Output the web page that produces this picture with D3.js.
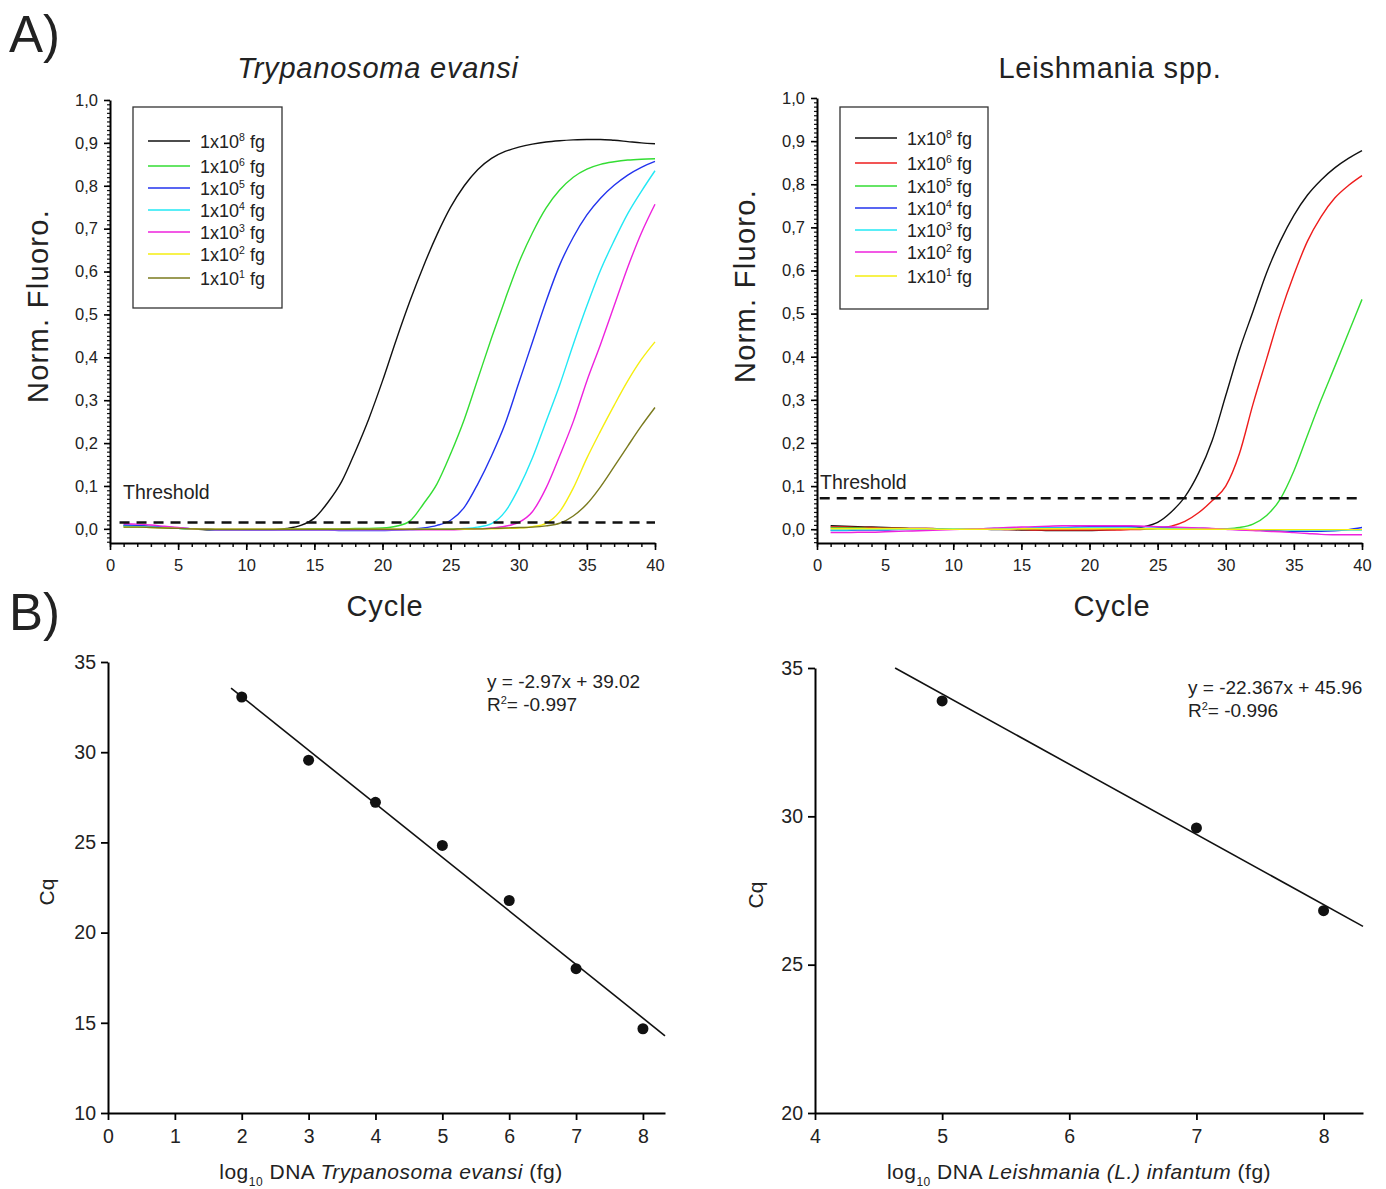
<!DOCTYPE html>
<html>
<head>
<meta charset="utf-8">
<script src="https://cdn.jsdelivr.net/npm/d3@7"></script>
<style>
  html, body { margin: 0; padding: 0; background: #fff; }
  svg { display: block; font-family: "Liberation Sans", Arial, sans-serif; }
</style>
</head>
<body>
<svg id="fig" width="1386" height="1189"></svg>
<script>
// ---------- amplification data (normalized fluorescence per cycle 1..40) ----------
const cycles = d3.range(1, 41);

// Trypanosoma evansi dilution series
const tevLabels = ["8", "6", "5", "4", "3", "2", "1"];
const tevColors = ["#111111", "#33dd33", "#2233ee", "#22e8f5", "#ee22dd", "#f5ee10", "#7a7a1e"];
const tev1e8 = [0.008,0.007,0.005,0.003,0.001,0.000,-0.002,-0.003,-0.003,-0.003,-0.003,-0.002,0.001,0.008,0.025,0.062,0.110,0.180,0.257,0.345,0.440,0.530,0.612,0.686,0.750,0.800,0.838,0.864,0.880,0.890,0.897,0.902,0.905,0.907,0.908,0.908,0.906,0.903,0.900,0.898];
const tev1e6 = [0.005,0.005,0.004,0.003,0.001,0.000,-0.001,-0.002,-0.002,-0.002,-0.002,-0.002,-0.001,-0.001,0.000,0.000,0.000,0.001,0.001,0.002,0.006,0.018,0.058,0.105,0.175,0.255,0.350,0.445,0.535,0.620,0.690,0.748,0.790,0.820,0.839,0.850,0.856,0.860,0.862,0.863];
const tev1e5 = [0.009,0.008,0.006,0.004,0.002,0.000,-0.001,-0.002,-0.002,-0.003,-0.003,-0.003,-0.003,-0.003,-0.003,-0.003,-0.004,-0.004,-0.004,-0.004,-0.003,-0.001,0.002,0.008,0.020,0.050,0.105,0.170,0.245,0.340,0.435,0.530,0.615,0.680,0.732,0.771,0.801,0.825,0.843,0.857];
const tev1e4 = [0.006,0.005,0.004,0.003,0.001,0.000,-0.001,-0.002,-0.002,-0.002,-0.002,-0.002,-0.002,-0.002,-0.002,-0.002,-0.002,-0.002,-0.002,-0.002,-0.002,-0.002,-0.001,-0.001,0.000,0.001,0.004,0.012,0.040,0.095,0.165,0.250,0.335,0.430,0.520,0.603,0.672,0.735,0.787,0.835];
const tev1e3 = [0.012,0.011,0.009,0.006,0.003,0.000,-0.001,-0.002,-0.002,-0.002,-0.002,-0.002,-0.002,-0.002,-0.002,-0.002,-0.002,-0.002,-0.002,-0.002,-0.002,-0.002,-0.002,-0.002,-0.002,-0.001,0.000,0.002,0.006,0.015,0.040,0.095,0.170,0.250,0.345,0.430,0.520,0.610,0.690,0.757];
const tev1e2 = [0.004,0.004,0.003,0.002,0.001,0.000,-0.001,-0.001,-0.001,-0.001,-0.001,-0.001,-0.001,-0.001,-0.001,-0.001,-0.001,-0.001,-0.001,-0.001,-0.001,-0.001,-0.001,-0.001,-0.001,-0.001,0.000,0.000,0.001,0.002,0.005,0.013,0.040,0.095,0.165,0.228,0.288,0.345,0.395,0.436];
const tev1e1 = [0.004,0.004,0.003,0.002,0.001,0.000,-0.001,-0.001,-0.001,-0.001,-0.001,-0.001,-0.001,-0.001,-0.001,-0.001,-0.001,-0.001,-0.001,-0.001,-0.001,-0.001,-0.001,-0.001,-0.001,0.000,0.000,0.001,0.002,0.003,0.004,0.007,0.013,0.030,0.058,0.098,0.145,0.193,0.240,0.283];
const tevThreshold = 0.015;

// Leishmania spp. dilution series
const leiLabels = ["8", "6", "5", "4", "3", "2", "1"];
const leiColors = ["#111111", "#ee1c1c", "#33dd33", "#2233ee", "#22e8f5", "#ee22dd", "#f5ee10"];
const lei1e8 = [0.008,0.007,0.006,0.005,0.004,0.003,0.002,0.002,0.001,0.000,0.000,0.000,-0.001,-0.001,-0.002,-0.002,-0.003,-0.003,-0.003,-0.003,-0.002,0.000,0.002,0.006,0.016,0.040,0.075,0.130,0.205,0.310,0.415,0.505,0.595,0.668,0.728,0.775,0.810,0.838,0.860,0.878];
const lei1e6 = [0.005,0.005,0.004,0.004,0.003,0.003,0.002,0.002,0.001,0.001,0.000,0.000,0.000,-0.001,-0.001,-0.002,-0.002,-0.002,-0.002,-0.002,-0.002,-0.002,-0.001,0.000,0.002,0.007,0.018,0.038,0.066,0.100,0.175,0.290,0.395,0.500,0.590,0.668,0.725,0.768,0.797,0.820];
const lei1e5 = [0.003,0.003,0.003,0.002,0.002,0.002,0.001,0.001,0.001,0.000,0.000,0.000,0.001,0.001,0.001,0.002,0.002,0.002,0.002,0.002,0.002,0.002,0.002,0.001,0.001,0.001,0.000,0.000,0.000,0.001,0.004,0.012,0.032,0.070,0.135,0.218,0.300,0.377,0.455,0.533];
const lei1e4 = [-0.003,-0.003,-0.002,-0.002,-0.002,-0.001,-0.001,-0.001,0.000,0.000,0.000,0.001,0.001,0.002,0.002,0.003,0.004,0.004,0.005,0.006,0.006,0.006,0.006,0.006,0.005,0.004,0.003,0.002,0.001,0.000,-0.001,-0.002,-0.003,-0.004,-0.005,-0.005,-0.005,-0.004,-0.001,0.004];
const lei1e3 = [-0.002,-0.002,-0.001,-0.001,-0.001,0.000,0.000,0.000,0.000,0.001,0.001,0.001,0.002,0.002,0.002,0.003,0.003,0.003,0.003,0.003,0.003,0.003,0.003,0.002,0.002,0.002,0.001,0.001,0.001,0.000,0.000,-0.001,-0.001,-0.001,-0.002,-0.002,-0.002,-0.002,-0.002,-0.002];
const lei1e2 = [-0.008,-0.008,-0.007,-0.007,-0.006,-0.005,-0.004,-0.003,-0.002,-0.001,0.000,0.001,0.003,0.004,0.005,0.006,0.007,0.008,0.008,0.008,0.008,0.008,0.008,0.007,0.006,0.005,0.004,0.003,0.002,0.000,-0.002,-0.003,-0.005,-0.006,-0.008,-0.010,-0.012,-0.013,-0.013,-0.013];
const lei1e1 = [0.001,0.001,0.001,0.001,0.001,0.001,0.001,0.001,0.000,0.000,0.000,0.000,0.000,0.000,0.001,0.001,0.001,0.001,0.001,0.001,0.001,0.001,0.001,0.001,0.001,0.000,0.000,0.000,0.000,0.000,0.000,-0.001,-0.001,-0.001,-0.001,-0.001,-0.001,-0.001,-0.001,-0.001];
const leiThreshold = 0.072;

// ---------- standard curves (Cq vs log10 DNA) ----------
const tevLog = [2, 3, 4, 5, 6, 7, 8];
const tevCq = [33.06, 29.56, 27.22, 24.83, 21.78, 18.0, 14.67];
const tevFitSlope = -2.97, tevFitIntercept = 39.02, tevFitRange = [1.84, 8.33];
const tevEquation = ["y = -2.97x + 39.02", "0.997"];

const leiLog = [5, 7, 8];
const leiCq = [33.89, 29.61, 26.82];
const leiFitSlope = -2.367, leiFitIntercept = 45.96, leiFitRange = [4.63, 8.31];
const leiEquation = ["y = -22.367x + 45.96", "0.996"];

// ---------- drawing ----------
const svg = d3.select("#fig");
const FONT = "Liberation Sans, Arial, sans-serif";
const commaFmt = d => d3.format(".1f")(d).replace(".", ",");

function ampPanel(opt) {
  const g = svg.append("g");
  const x = d3.scaleLinear().domain([0, 40]).range(opt.xRange);
  const y = d3.scaleLinear().domain(opt.yDomain).range(opt.yRange);
  const y0 = opt.yRange[0];
  const x0 = opt.xRange[0];

  // minor ticks
  g.append("g").attr("transform", `translate(0,${y0})`)
    .call(d3.axisBottom(x).tickValues(d3.range(0, 41, 1)).tickSize(4).tickFormat("").tickSizeOuter(0))
    .call(a => a.select(".domain").remove())
    .call(a => a.selectAll("line").attr("stroke-width", 1.5).attr("stroke", "#111"));
  g.append("g").attr("transform", `translate(${x0},0)`)
    .call(d3.axisLeft(y).tickValues(d3.range(-3, 101, 1).map(v => v / 100)).tickSize(3).tickFormat("").tickSizeOuter(0))
    .call(a => a.select(".domain").remove())
    .call(a => a.selectAll("line").attr("stroke-width", 1.2).attr("stroke", "#111"));

  // major ticks and labels
  g.append("g").attr("transform", `translate(0,${y0})`)
    .call(d3.axisBottom(x).tickValues(d3.range(0, 41, 5)).tickSize(7).tickPadding(9).tickSizeOuter(0))
    .call(a => a.selectAll("text").attr("font-size", 16.5).attr("fill", "#222").attr("font-family", FONT))
    .call(a => a.selectAll("line").attr("stroke-width", 1.6))
    .call(a => a.select(".domain").attr("stroke-width", 2));
  g.append("g").attr("transform", `translate(${x0},0)`)
    .call(d3.axisLeft(y).tickValues(d3.range(0, 11).map(v => v / 10)).tickSize(6).tickPadding(6).tickFormat(commaFmt).tickSizeOuter(0))
    .call(a => a.selectAll("text").attr("font-size", 16.5).attr("fill", "#222").attr("font-family", FONT))
    .call(a => a.selectAll("line").attr("stroke-width", 1.6))
    .call(a => a.select(".domain").attr("stroke-width", 2));

  // curves
  const line = d3.line().x((d, i) => x(cycles[i])).y(d => y(d)).curve(d3.curveMonotoneX);
  opt.series.forEach((s, i) => {
    g.append("path").attr("d", line(s)).attr("fill", "none")
      .attr("stroke", opt.colors[i]).attr("stroke-width", 1.4);
  });

  // threshold
  g.append("line")
    .attr("x1", x(opt.thrFrom)).attr("x2", x(40))
    .attr("y1", y(opt.threshold)).attr("y2", y(opt.threshold))
    .attr("stroke", "#111").attr("stroke-width", 2.5).attr("stroke-dasharray", "10,7");
  g.append("text").attr("x", opt.thrLabel[0]).attr("y", opt.thrLabel[1])
    .attr("font-size", 19.5).attr("fill", "#222").text("Threshold");

  // titles
  const title = g.append("text").attr("x", opt.titlePos[0]).attr("y", opt.titlePos[1])
    .attr("text-anchor", "middle").attr("font-size", 29).attr("letter-spacing", 0.8)
    .attr("fill", "#222").text(opt.title);
  if (opt.italic) title.attr("font-style", "italic");
  g.append("text").attr("transform", `translate(${opt.yTitlePos[0]},${opt.yTitlePos[1]}) rotate(-90)`)
    .attr("text-anchor", "middle").attr("font-size", 29).attr("letter-spacing", 1.3)
    .attr("fill", "#222").text("Norm. Fluoro.");
  g.append("text").attr("x", opt.xTitlePos[0]).attr("y", opt.xTitlePos[1])
    .attr("text-anchor", "middle").attr("font-size", 29).attr("letter-spacing", 0.9)
    .attr("fill", "#222").text("Cycle");

  // legend
  const [lx, ly, lw, lh] = opt.legendBox;
  g.append("rect").attr("x", lx).attr("y", ly).attr("width", lw).attr("height", lh)
    .attr("fill", "#fff").attr("stroke", "#333").attr("stroke-width", 1.3);
  opt.labels.forEach((lab, i) => {
    const ry = opt.legendRows[i];
    g.append("line").attr("x1", lx + 15).attr("x2", lx + 57).attr("y1", ry).attr("y2", ry)
      .attr("stroke", opt.colors[i]).attr("stroke-width", 1.5);
    const t = g.append("text").attr("x", lx + 67).attr("y", ry + 6.5).attr("font-size", 18).attr("fill", "#222");
    t.append("tspan").text("1x10");
    t.append("tspan").attr("dy", -6.5).attr("font-size", 10.5).text(lab);
    t.append("tspan").attr("dy", 6.5).text(" fg");
  });
}

ampPanel({
  xRange: [110, 655], yDomain: [-0.033, 1.0], yRange: [543, 100],
  series: [tev1e8, tev1e6, tev1e5, tev1e4, tev1e3, tev1e2, tev1e1],
  colors: tevColors, labels: tevLabels,
  threshold: tevThreshold, thrFrom: 0.7, thrLabel: [123, 499],
  title: "Trypanosoma evansi", italic: true, titlePos: [378, 78],
  yTitlePos: [48, 306], xTitlePos: [385, 616],
  legendBox: [133, 107, 149, 201],
  legendRows: [141, 166, 188, 210, 232, 254, 278]
});

ampPanel({
  xRange: [817, 1362], yDomain: [-0.032, 1.0], yRange: [543, 98],
  series: [lei1e8, lei1e6, lei1e5, lei1e4, lei1e3, lei1e2, lei1e1],
  colors: leiColors, labels: leiLabels,
  threshold: leiThreshold, thrFrom: 0.2, thrLabel: [820, 489],
  title: "Leishmania spp.", italic: false, titlePos: [1110, 78],
  yTitlePos: [755, 286], xTitlePos: [1112, 616],
  legendBox: [840, 107, 148, 202],
  legendRows: [138, 163, 186, 208, 230, 252, 276]
});

function stdPanel(opt) {
  const g = svg.append("g");
  const x = d3.scaleLinear().domain(opt.xDomain).range(opt.xRange);
  const y = d3.scaleLinear().domain(opt.yDomain).range(opt.yRange);
  const y0 = opt.yRange[0], x0 = opt.xRange[0];

  g.append("g").attr("transform", `translate(0,${y0})`)
    .call(d3.axisBottom(x).tickValues(opt.xTicks).tickFormat(d3.format("d")).tickSize(7).tickPadding(9).tickSizeOuter(0))
    .call(a => a.selectAll("text").attr("font-size", 19.5).attr("fill", "#222").attr("font-family", FONT))
    .call(a => a.selectAll("line").attr("stroke-width", 1.8))
    .call(a => a.select(".domain").attr("stroke-width", 2));
  g.append("g").attr("transform", `translate(${x0},0)`)
    .call(d3.axisLeft(y).tickValues(opt.yTicks).tickFormat(d3.format("d")).tickSize(7).tickPadding(5).tickSizeOuter(0))
    .call(a => a.selectAll("text").attr("font-size", 19.5).attr("fill", "#222").attr("font-family", FONT))
    .call(a => a.selectAll("line").attr("stroke-width", 1.8))
    .call(a => a.select(".domain").attr("stroke-width", 2));

  // regression line
  const fx = opt.fitRange;
  g.append("line")
    .attr("x1", x(fx[0])).attr("y1", y(opt.slope * fx[0] + opt.intercept))
    .attr("x2", x(fx[1])).attr("y2", y(opt.slope * fx[1] + opt.intercept))
    .attr("stroke", "#111").attr("stroke-width", 1.6);

  // points
  g.selectAll("circle.pt").data(opt.xs).join("circle").attr("class", "pt")
    .attr("cx", d => x(d)).attr("cy", (d, i) => y(opt.ys[i])).attr("r", 5.5).attr("fill", "#111");

  // equation
  const [ex, ey] = opt.eqPos;
  g.append("text").attr("x", ex).attr("y", ey).attr("font-size", 19).attr("fill", "#222").text(opt.eq[0]);
  const r = g.append("text").attr("x", ex).attr("y", ey + 23).attr("font-size", 19).attr("fill", "#222");
  r.append("tspan").text("R");
  r.append("tspan").attr("dy", -7).attr("font-size", 11).text("2");
  r.append("tspan").attr("dy", 7).text("= -" + opt.eq[1]);

  // axis titles
  g.append("text").attr("transform", `translate(${opt.cqPos[0]},${opt.cqPos[1]}) rotate(-90)`)
    .attr("text-anchor", "middle").attr("font-size", 21).attr("fill", "#222").text("Cq");
  const xt = g.append("text").attr("x", opt.xTitlePos[0]).attr("y", opt.xTitlePos[1])
    .attr("text-anchor", "middle").attr("font-size", 21).attr("letter-spacing", 0.5).attr("fill", "#222");
  xt.append("tspan").text("log");
  xt.append("tspan").attr("dy", 7).attr("font-size", 12).text("10");
  xt.append("tspan").attr("dy", -7).text(" DNA ");
  opt.species.forEach(s => {
    const ts = xt.append("tspan").text(s[0]);
    if (s[1]) ts.attr("font-style", "italic");
  });
}

stdPanel({
  xDomain: [0, 8.33], xRange: [108, 665], yDomain: [10, 35], yRange: [1113, 662],
  xTicks: d3.range(0, 9), yTicks: [10, 15, 20, 25, 30, 35],
  xs: tevLog, ys: tevCq, slope: tevFitSlope, intercept: tevFitIntercept, fitRange: tevFitRange,
  eq: tevEquation, eqPos: [487, 688],
  cqPos: [54, 892], xTitlePos: [391, 1179],
  species: [["Trypanosoma evansi", true], [" (fg)", false]]
});

stdPanel({
  xDomain: [4, 8.31], xRange: [815, 1363], yDomain: [20, 35], yRange: [1113, 668],
  xTicks: [4, 5, 6, 7, 8], yTicks: [20, 25, 30, 35],
  xs: leiLog, ys: leiCq, slope: leiFitSlope, intercept: leiFitIntercept, fitRange: leiFitRange,
  eq: leiEquation, eqPos: [1188, 694],
  cqPos: [763, 895], xTitlePos: [1079, 1179],
  species: [["Leishmania (L.) infantum", true], [" (fg)", false]]
});

// panel letters
svg.append("text").attr("x", 9).attr("y", 52).attr("font-size", 51).attr("fill", "#222").text("A)");
svg.append("text").attr("x", 9).attr("y", 630).attr("font-size", 51).attr("fill", "#222").text("B)");
</script>
</body>
</html>
